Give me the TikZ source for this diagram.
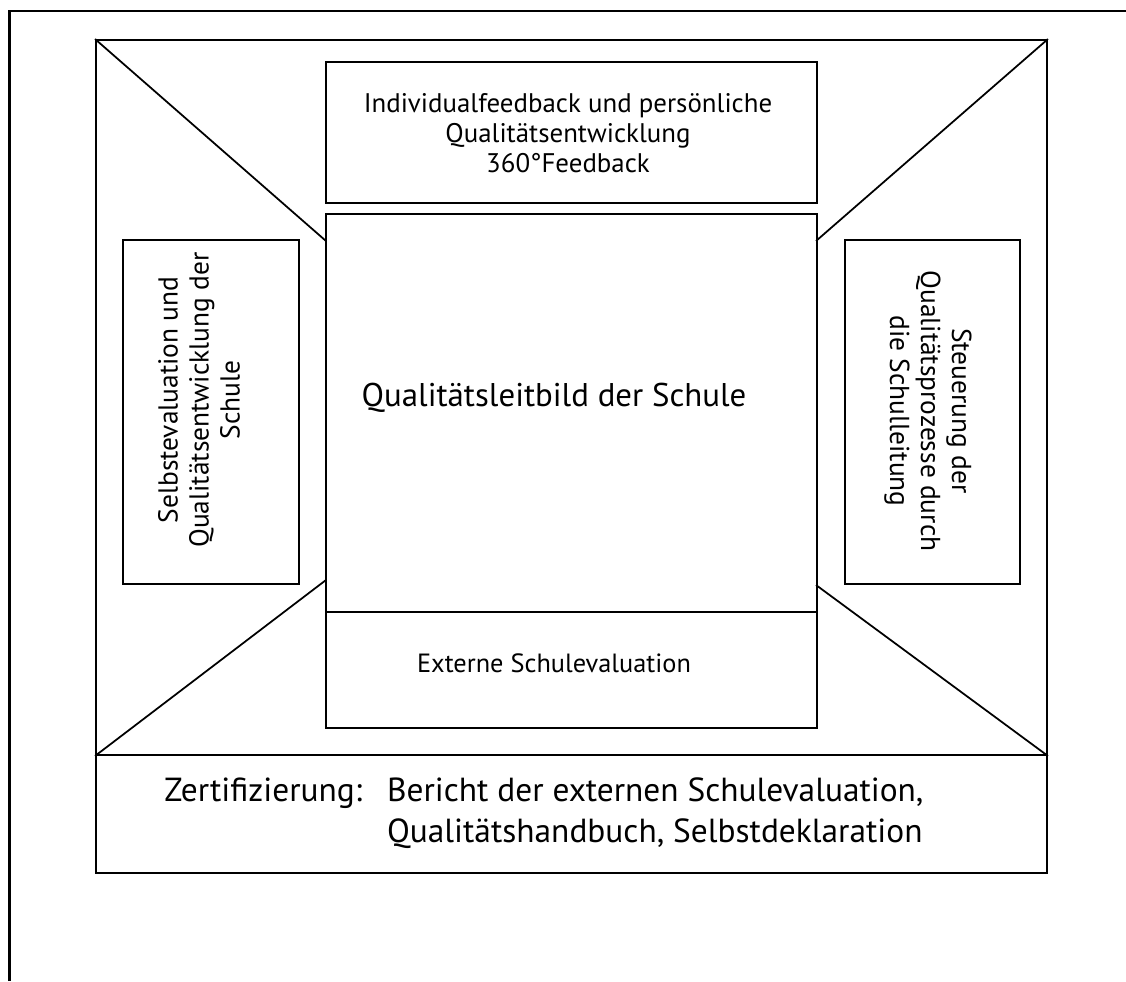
\documentclass[tikz,border=0pt]{standalone}
\usepackage{fontspec}
\setmainfont{PT Sans}
\usetikzlibrary{calc}
\newcommand\px{0.02cm}
\begin{document}
\begin{tikzpicture}[x=0.02cm,y=-0.02cm,
  frameline/.style={line width=1.1pt},
  panel/.style={draw,frameline,inner sep=0pt,align=center,minimum width=#1},
  diag/.style={line width=1pt},
  label/.style={align=center,inner sep=0pt}]
  \useasboundingbox (0,0) rectangle (1126,981);
  % outer border (left and top edges)
  \draw[line width=1.7pt] (9.5,981) -- (9.5,11) -- (1126,11);
  % large frame and its parts
  \node[panel=951*\px, minimum height=715*\px] (frame) at (571.5,397.5) {};
  \node[panel=491*\px, minimum height=141*\px] (top) at (571.5,132.5) {};
  \node[panel=491*\px, minimum height=398*\px] (mid) at (571.5,413) {};
  \node[panel=491*\px, minimum height=116*\px] (ext) at (571.5,670) {};
  \node[panel=176*\px, minimum height=344*\px] (left) at (211,412) {};
  \node[panel=175*\px, minimum height=344*\px] (right) at (932.5,412) {};
  \node[panel=951*\px, minimum height=118*\px] (cert) at (571.5,814) {};
  % diagonal corner lines
  \coordinate (ul) at (326,241);
  \coordinate (ur) at (816,241);
  \coordinate (ll) at (326,580);
  \coordinate (lr) at (816,585);
  \draw[diag] (frame.north west) -- (ul);
  \draw[diag] (frame.north east) -- (ur);
  \draw[diag] (frame.south west) -- (ll);
  \draw[diag] (frame.south east) -- (lr);
  % texts
  \node[label,font=\fontsize{15.3}{17.2}\selectfont] (toptext) at (568,133)
    {Individualfeedback und persönliche\\Qualitätsentwicklung\\360°Feedback};
  \node[label,font=\fontsize{18.7}{21}\selectfont] (midtext) at (554,398)
    {Qualitätsleitbild der Schule};
  \node[label,font=\fontsize{15}{17}\selectfont] (exttext) at (554,663)
    {Externe Schulevaluation};
  \node[label,rotate=90,font=\fontsize{15.6}{17.6}\selectfont] (lefttext) at (199,400)
    {Selbstevaluation und\\Qualitätsentwicklung der\\Schule};
  \node[label,rotate=-90,font=\fontsize{15.6}{17.6}\selectfont] (righttext) at (928,411)
    {Steuerung der\\Qualitätsprozesse durch\\die Schulleitung};
  \node[label,anchor=west,font=\fontsize{19}{23.5}\selectfont] (certtext) at (164,814)
    {\begin{tabular}{@{}l@{\hspace{0.5cm}}l@{}}
      Zertifizierung: & Bericht der externen Schulevaluation,\\
      & Qualitätshandbuch, Selbstdeklaration
    \end{tabular}};
\end{tikzpicture}
\end{document}
